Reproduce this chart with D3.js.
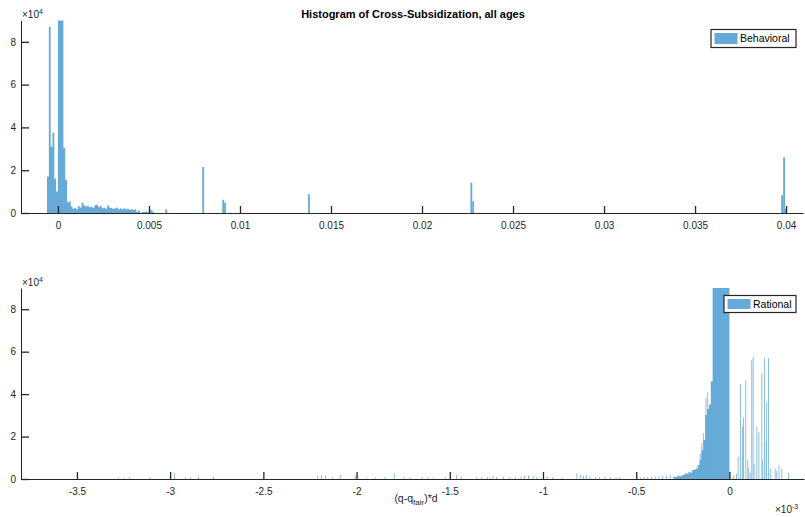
<!DOCTYPE html>
<html>
<head>
<meta charset="utf-8">
<script src="https://cdn.jsdelivr.net/npm/d3@7"></script>
<style>
  body { margin: 0; background: #fff; }
  svg { display: block; font-family: "Liberation Sans", Arial, sans-serif; }
  .axis path, .axis line { stroke: #262626; }
  .axis text { fill: #262626; font-size: 10px; font-family: "Liberation Sans", Arial, sans-serif; }
</style>
</head>
<body>
<svg id="chart" width="805" height="517"></svg>
<script>
//Data
const title = 'Histogram of Cross-Subsidization, all ages';

// Behavioral: dense bins (left edges start at -0.0006, width 0.0001)
const behavioralStart = -0.0006;
const behavioralBinWidth = 0.0001;
const behavioralCounts = [
  17000, 87000, 31000, 37500, 16000, 10000, 250000, 310000, 180000, 30500,
  15500, 5000, 5500, 3000, 2000, 2500, 1800, 3200, 2600, 4800,
  3500, 3000, 3300, 2700, 2900, 2400, 3600, 3900, 2800, 3400,
  2200, 2500, 2000, 3500, 2600, 2300, 1900, 2200, 2400, 1800,
  2100, 1700, 2200, 1600, 2000, 1500, 1800, 1400, 1700, 600,
  1200, 0, 500, 400, 800, 300, 1600, 1300, 400
];
// Behavioral: isolated bins [left edge, count]
const behavioralSpikes = [
  [0.0059, 1700], [0.00793, 21500], [0.00903, 6200], [0.00913, 4800],
  [0.01374, 8800], [0.02266, 14200], [0.02276, 5500],
  [0.03973, 8300], [0.03984, 26000], [0.03994, 2000]
];
const behavioralTicks = [0, 0.005, 0.01, 0.015, 0.02, 0.025, 0.03, 0.035, 0.04];

// Rational (x in units of 1e-3): dense core bins from -0.30, width 0.01
const rationalStart = -0.30;
const rationalBinWidth = 0.01;
const rationalCounts = [
  1200, 1000, 1500, 1300, 1700, 1900, 2700, 2400, 3400, 3000,
  4200, 4500, 5000, 6600, 9000, 13600, 18400, 30000, 33000, 35000,
  46000, 120000, 180000, 260000, 350000, 420000, 380000, 300000, 220000, 150000
];
// Rational: thin isolated bins [left edge, count]
const rationalSpikeWidth = 0.004;
const rationalSpikes = [
  [-3.28, 700], [-3.25, 600], [-3.22, 800], [-3.11, 1000], [-2.98, 3000],
  [-2.92, 800], [-2.89, 700], [-2.85, 900], [-2.77, 1000], [-2.21, 1500],
  [-2.19, 1800], [-2.17, 1600], [-2.13, 700], [-2.09, 2200], [-2.01, 1700],
  [-1.95, 500], [-1.90, 600], [-1.85, 900], [-1.80, 2500], [-1.75, 700],
  [-1.715, 900], [-1.65, 800], [-1.62, 700], [-1.59, 600], [-1.527, 1000],
  [-1.465, 2000], [-1.44, 1000], [-1.357, 900], [-1.33, 700], [-1.30, 800],
  [-1.286, 600], [-1.27, 1500], [-1.25, 1000], [-1.215, 1200], [-1.18, 800],
  [-1.15, 900], [-1.12, 1200], [-1.10, 1500], [-1.08, 1700], [-1.055, 1300],
  [-1.035, 1000], [-0.98, 1200], [-0.95, 1000], [-0.90, 700], [-0.82, 2800],
  [-0.80, 2000], [-0.785, 1500], [-0.77, 1800], [-0.75, 1200], [-0.72, 1000],
  [-0.70, 900], [-0.67, 1100], [-0.64, 800], [-0.61, 700], [-0.59, 900],
  [-0.48, 700], [-0.46, 900], [-0.44, 1100], [-0.42, 1000], [-0.40, 1300],
  [-0.38, 1200], [-0.36, 1500], [-0.34, 1400], [-0.32, 1800],
  [-0.159, 12000], [-0.150, 17000], [-0.142, 21600], [-0.128, 38000], [-0.118, 41000],
  [0.02, 1500], [0.035, 2500], [0.0445, 10500], [0.0569, 44700], [0.0676, 24600],
  [0.073, 29000], [0.0858, 46600], [0.0966, 9000], [0.102, 5000], [0.109, 3000],
  [0.118, 56000], [0.125, 57500], [0.130, 7000], [0.145, 24600], [0.156, 22000],
  [0.172, 49700], [0.177, 9000], [0.186, 57000], [0.195, 17500], [0.198, 36000],
  [0.207, 57000], [0.22, 5000], [0.243, 5000], [0.252, 4000], [0.264, 6500],
  [0.279, 5000], [0.314, 3000]
];
const rationalTicks = [-3.5, -3, -2.5, -2, -1.5, -1, -0.5, 0];

const yTicks = [0, 20000, 40000, 60000, 80000];
const yMax = 90000;

//Visual
const barColor = '#66aad7';
const axisColor = '#262626';

const svg = d3.select('#chart');

function drawPanel(opts) {
  const x = d3.scaleLinear().domain(opts.xDomain).range([opts.left, opts.right]);
  const y = d3.scaleLinear().domain([0, yMax]).range([opts.bottom, opts.top]).clamp(true);

  const g = svg.append('g');

  // dense bins as one stepped area so neighbouring bars don't show seams
  const steps = opts.counts.map((c, i) => [opts.start + i * opts.width, c]);
  steps.push([opts.start + opts.counts.length * opts.width, opts.counts[opts.counts.length - 1]]);
  const area = d3.area()
    .x(d => x(d[0]))
    .y0(opts.bottom)
    .y1(d => y(d[1]))
    .curve(d3.curveStepAfter);
  g.append('path')
    .datum(steps)
    .attr('d', area)
    .attr('fill', barColor);

  g.selectAll('rect.bar')
    .data(opts.spikes)
    .enter()
    .append('rect')
    .attr('class', 'bar')
    .attr('x', d => x(d[0]))
    .attr('width', d => x(d[0] + opts.spikeWidth) - x(d[0]))
    .attr('y', d => y(d[1]))
    .attr('height', d => opts.bottom - y(d[1]))
    .attr('fill', barColor);

  g.append('g')
    .attr('class', 'axis')
    .attr('transform', `translate(0,${opts.bottom})`)
    .call(d3.axisBottom(x).tickValues(opts.ticks).tickFormat(d => String(d))
      .tickSizeInner(-7).tickSizeOuter(0).tickPadding(9))
    .call(a => a.selectAll('line').attr('stroke-width', 1.3));

  g.append('g')
    .attr('class', 'axis')
    .attr('transform', `translate(${opts.left},0)`)
    .call(d3.axisLeft(y).tickValues(yTicks).tickFormat(d => d / 10000)
      .tickSizeInner(-8).tickSizeOuter(0).tickPadding(5))
    .call(a => a.selectAll('line').attr('stroke-width', 1.3));

  // exponent label on y axis
  const ex = g.append('text')
    .attr('x', opts.left + 1)
    .attr('y', opts.top - 2)
    .attr('fill', axisColor)
    .style('font-size', '10px');
  ex.append('tspan').text('\u00d710');
  ex.append('tspan').attr('dy', -4).style('font-size', '7px').text('4');

  // legend
  const lg = g.append('g').attr('transform', `translate(${opts.legend.x},${opts.legend.y})`);
  lg.append('rect')
    .attr('width', opts.legend.w).attr('height', opts.legend.h)
    .attr('fill', '#fff').attr('stroke', axisColor).attr('stroke-width', 1.2);
  lg.append('rect')
    .attr('x', 3.5).attr('y', 3.5)
    .attr('width', 23).attr('height', opts.legend.h - 7)
    .attr('fill', barColor);
  lg.append('text')
    .attr('x', 29).attr('y', opts.legend.h / 2 + 3.6)
    .attr('fill', '#000')
    .style('font-size', '10.5px')
    .text(opts.legend.label);
}

drawPanel({
  left: 21, right: 803, top: 20.4, bottom: 213,
  xDomain: [-0.00203, 0.04093],
  start: behavioralStart, width: behavioralBinWidth, counts: behavioralCounts,
  spikes: behavioralSpikes, spikeWidth: behavioralBinWidth,
  ticks: behavioralTicks,
  legend: { x: 711, y: 29.5, w: 85, h: 18, label: 'Behavioral' }
});

drawPanel({
  left: 21, right: 804, top: 288, bottom: 479,
  xDomain: [-3.8, 0.4],
  start: rationalStart, width: rationalBinWidth, counts: rationalCounts,
  spikes: rationalSpikes, spikeWidth: rationalSpikeWidth,
  ticks: rationalTicks,
  legend: { x: 724, y: 295.5, w: 72, h: 17, label: 'Rational' }
});

// title
svg.append('text')
  .attr('x', 413).attr('y', 17.5)
  .attr('text-anchor', 'middle')
  .attr('fill', '#000')
  .style('font-size', '11px')
  .style('font-weight', 'bold')
  .text(title);

// x label
const xl = svg.append('text')
  .attr('x', 416).attr('y', 502)
  .attr('text-anchor', 'middle')
  .attr('fill', axisColor)
  .style('font-size', '10.5px');
xl.append('tspan').text('(q-q');
xl.append('tspan').attr('dy', 3).style('font-size', '8px').text('fair');
xl.append('tspan').attr('dy', -3).text(')*d');

// x exponent
const xe = svg.append('text')
  .attr('x', 775).attr('y', 513)
  .attr('fill', axisColor)
  .style('font-size', '10px');
xe.append('tspan').text('\u00d710');
xe.append('tspan').attr('dy', -4).style('font-size', '7px').text('-3');
</script>
</body>
</html>
